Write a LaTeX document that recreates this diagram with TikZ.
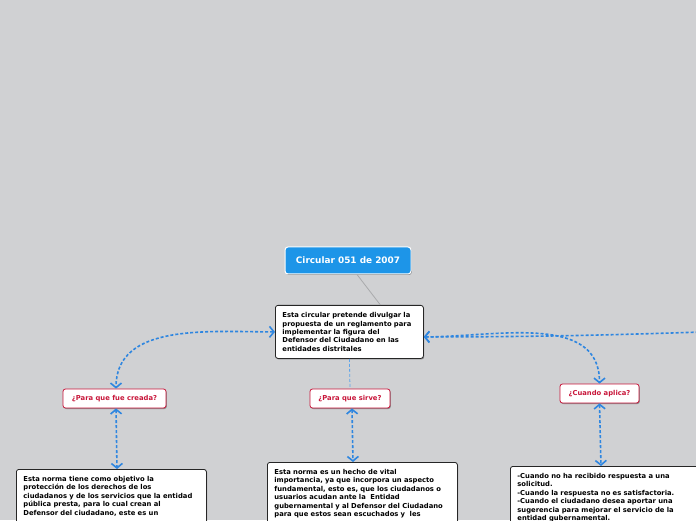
\documentclass[tikz,border=0pt]{standalone}
\usepackage{fontspec}
\setmainfont{DejaVu Sans}
\usetikzlibrary{arrows.meta,shadows,calc}
\definecolor{bg}{HTML}{D0D1D3}
\definecolor{tblue}{HTML}{1D95E8}
\definecolor{qred}{HTML}{C8163A}
\definecolor{cblue}{HTML}{2E86E0}
\definecolor{lblue}{HTML}{5FA5EA}
\definecolor{glink}{HTML}{A9AAAC}
\tikzset{
  shad/.style={drop shadow={shadow xshift=0.8pt,shadow yshift=-1pt,opacity=0.35,fill=black}},
  titlebox/.style={draw=white, fill=tblue, rounded corners=3pt, line width=1pt, text=white,
    font=\fontsize{8.9}{10}\selectfont\bfseries, minimum width=126pt, minimum height=27pt, inner sep=0pt, shad},
  textbox/.style={draw=black!85, fill=white, rounded corners=2.5pt, line width=0.8pt, shad,
    font=\fontsize{6.8}{8.4}\selectfont\bfseries, align=left, inner xsep=7pt, inner ysep=6pt},
  qbox/.style={draw=qred, fill=white, rounded corners=2.5pt, line width=0.8pt, text=qred, shad,
    font=\fontsize{6.8}{7.5}\selectfont\bfseries, minimum height=19pt, inner sep=0pt},
  tipb/.tip={Straight Barb[length=4.5pt,width=11pt,line width=1.6pt]},
  conn/.style={draw=cblue, line width=1.6pt, dash pattern=on 3pt off 2pt},
  lconn/.style={draw=lblue, line width=0.8pt, dash pattern=on 3pt off 2pt},
}
\begin{document}
\begin{tikzpicture}[x=1pt,y=1pt]
\useasboundingbox (0,0) rectangle (696,520);
\fill[bg] (0,0) rectangle (696,520);
\clip (0,0) rectangle (696,520);

\node[titlebox] (title) at (348,259.5) {Circular 051 de 2007};

\node[textbox, text width=134pt, minimum height=53pt, anchor=north west] (main) at (275,215)
  {Esta circular pretende divulgar la\\propuesta de un reglamento para\\implementar la figura del\\Defensor del Ciudadano en las\\entidades distritales};

\node[qbox, minimum width=103pt] (fue) at (114.5,121.5) {¿Para que fue creada?};
\node[qbox, minimum width=80pt] (sirve) at (350,121.5) {¿Para que sirve?};
\node[qbox, minimum width=79pt] (aplica) at (599.5,126.5) {¿Cuando aplica?};

\node[textbox, text width=176pt, anchor=north west, inner ysep=7pt] (lbox) at (16,51)
  {Esta norma tiene como objetivo la\\protección de los derechos de los\\ciudadanos y de los servicios que la entidad\\pública presta, para lo cual crean al\\Defensor del ciudadano, este es un\\\rule{0pt}{30pt}};

\node[textbox, text width=176pt, anchor=north west, inner ysep=7pt] (mbox) at (267,58)
  {Esta norma es un hecho de vital\\importancia, ya que incorpora un aspecto\\fundamental, esto es, que los ciudadanos o\\usuarios acudan ante la\ \ Entidad\\gubernamental y al Defensor del Ciudadano\\para que estos sean escuchados y\ \ les\\\rule{0pt}{30pt}};

\node[textbox, text width=176pt, anchor=north west, inner ysep=7pt] (rbox) at (510,54)
  {-Cuando no ha recibido respuesta a una\\solicitud.\\-Cuando la respuesta no es satisfactoria.\\-Cuando el ciudadano desea aportar una\\sugerencia para mejorar el servicio de la\\entidad gubernamental.\\\rule{0pt}{30pt}};

\coordinate (offr) at (760,190);

% links
\draw[glink, line width=0.8pt] ($(title.south)+(9,0)$) -- ($(main.north)+(31,0)$);
\draw[lconn] (main.south) -- (sirve.north);
\draw[conn, {tipb}-{tipb}] (main.west) to[out=180,in=90] ($(fue.north)+(1.5,0)$);
\draw[conn, {tipb}-] ($(main.east)+(0,-5)$) to[out=0,in=182] (offr);
\draw[conn, {tipb}-{tipb}] ($(main.east)+(0,-5)$) to[out=0,in=90] (aplica.north);
\draw[conn, {tipb}-{tipb}] ($(fue.south)+(1.5,0)$) -- ($(lbox.north west)+(101,0)$);
\draw[conn, {tipb}-{tipb}] ($(sirve.south)+(2,0)$) -- ($(mbox.north west)+(86,0)$);
\draw[conn, {tipb}-{tipb}] (aplica.south) -- ($(rbox.north west)+(91,0)$);
\end{tikzpicture}
\end{document}
